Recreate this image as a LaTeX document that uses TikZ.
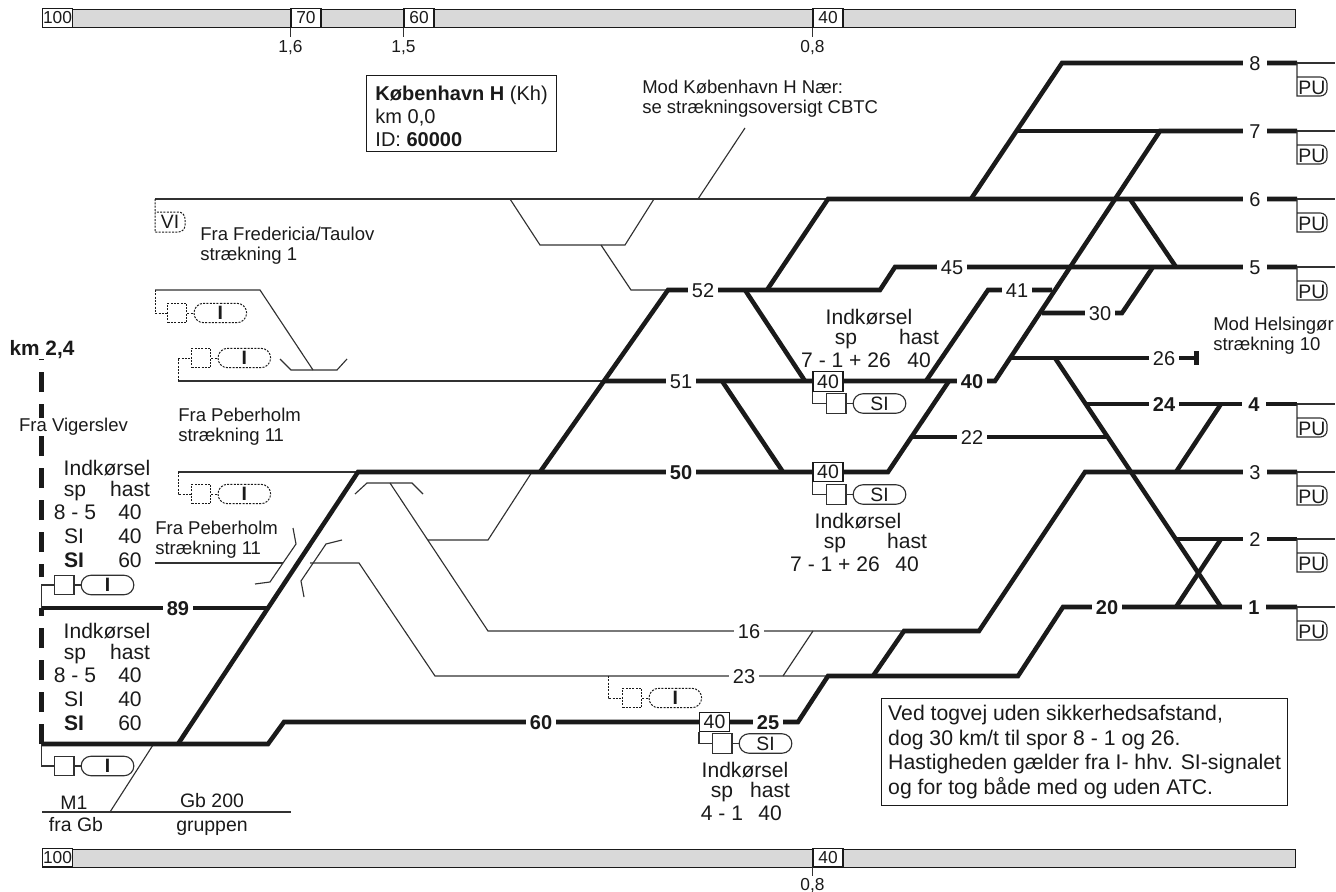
\documentclass[tikz,border=0pt]{standalone}
\usepackage{fontspec}
\setmainfont{Liberation Sans}
\usetikzlibrary{arrows.meta, positioning, calc, shapes.misc}
\definecolor{inkcol}{HTML}{1A1A1A}
\definecolor{barcol}{HTML}{D9D9D9}
\begin{document}
\begin{tikzpicture}[
    x=0.75pt, y=-0.75pt,
    % Line styles of the track plan
    track_line/.style={line width=3.4pt, color=inkcol},
    thin_line/.style={line width=0.85pt, draw=inkcol!90},
    dot_line/.style={line width=0.75pt, draw=inkcol, dash pattern=on 1.5pt off 1pt},
    km_line/.style={track_line, dash pattern=on 15pt off 9pt},
    % Text styles, named after the point size
    txt/.style={inner sep=0pt, text=inkcol, text depth=0pt},
    txt_13/.style={txt, font=\fontsize{13}{15}\selectfont, text height=9.4pt},
    txt_14/.style={txt, font=\fontsize{13.9}{15}\selectfont, align=left, anchor=west},
    txt_gb/.style={txt, font=\fontsize{14.6}{16}\selectfont, text height=10.5pt},
    tbl/.style={txt, font=\fontsize{15.8}{18}\selectfont, text height=11.3pt},
    trk_lbl/.style={txt, fill=white, font=\fontsize{15}{17}\selectfont, text height=10.7pt, minimum width=22.5pt},
    trk_bold/.style={trk_lbl, font=\fontsize{15}{17}\selectfont\bfseries},
    trk_one/.style={trk_lbl, minimum width=18pt},
    trk_onb/.style={trk_bold, minimum width=18pt},
    % Boxes and signals
    bar_box/.style={draw=inkcol, line width=0.85pt, fill=barcol, anchor=north west, minimum width=940pt, minimum height=13.5pt, inner sep=0pt},
    km_box/.style={draw=inkcol, line width=0.85pt, fill=white, inner sep=0pt, minimum width=22.5pt, minimum height=13.8pt, font=\fontsize{13}{15}\selectfont, text=inkcol},
    spd_box/.style={km_box, minimum height=14.4pt, font=\fontsize{14.6}{16}\selectfont},
    sig_box/.style={draw, fill=white, minimum size=14.6pt, inner sep=0pt, anchor=west},
    sig_pill/.style={rounded rectangle, draw, fill=white, minimum width=39.5pt, minimum height=14.6pt, inner sep=0pt, font=\fontsize{14.5}{16}\selectfont, text=inkcol},
    note_box/.style={draw=inkcol, line width=0.85pt, fill=white, anchor=north west, align=left, text=inkcol}
]
    \useasboundingbox (0,0) rectangle (1336,892);

    % --- Junctions of the track plan ---
    \foreach \n/\x/\y in {
        s0/42/744, s1/268/744, s2/284/722, s3/798/722, s4/828/676, s5/1018/676, s6/1063/607,
        m0/178/744, m1/358/472, m2/888/472, m3/949/381, n0/603/381, w0/995/381, b7/1160/131,
        p0/540/472, p1/668/290, p2/880/290, p3/895/267, q0/745/290, q1/805/381,
        r0/767/290, a6/828/199, v0/722/381, v1/783/472, b6/971/199, a8/1062/63, a7/1018/131,
        x0/926/381, x1/988/290, x2/1052/290, c6/1130/199, b5/1176/267, y0/1042/313, y1/1122/313, c5/1153/267,
        z0/1012/358, z1/1199/358, big0/1055/358, big1/1221/607, t4/1087/404, u0/1221/404, u1/1176/472,
        t22/912/437, t22e/1107/437, o0/873/676, o1/904/631, o2/979/631, o3/1085/472,
        t2/1176/539, k0/1221/539, k1/1176/607, t89/42/608, t89e/268/608,
        % thin lines
        vi0/155/199, cu0/510/199, cu1/540/245, cu2/625/245, cu3/654/199, cu4/601/245, cu5/631/290,
        hn0/745/128, hn1/698/199, fa0/155/290, fa1/260/290, fa2/313/370,
        xa0/280/359, xa1/291/370, xa2/337/370, xa3/347/359, fb0/178/381, fc0/178/472,
        fd0/155/563, fd1/283/563, ga0/293/528, ga1/296/544, ga2/270/582, ga3/255/584,
        gb0/342/540, gb1/326/544, gb2/301/581, gb3/304/597, he0/310/563, he1/359/563, he2/435/676,
        xb0/355/494, xb1/367/483, xb2/412/483, xb3/423/494, ta0/390/483, ta1/488/631,
        ja0/428/540, ja1/488/540, ja2/532/472, li0/783/676, li1/813/631, fe0/608/676,
        mg0/153/745, mg1/110/812, ml0/42/812, ml1/291/812, kma/41.5/744, kmb/41.5/608, kmc/41.5/577, kmd/41.5/359} {
        \coordinate (\n) at (\x,\y);
    }

    % Vertical km line on the left, cut off by the signal stub
    \draw[km_line] (kma) -- (kmb);
    \draw[km_line, dash phase=5.25pt] (kmc) -- (kmd);

    % --- Thin lines ---
    \draw[thin_line] (vi0) -- (a6);
    \draw[thin_line] (cu0) -- (cu1) -- (cu2) -- (cu3);
    \draw[thin_line] (cu4) -- (cu5) -- (p1);
    \draw[thin_line] (hn0) -- (hn1);
    \draw[thin_line] (fa0) -- (fa1) -- (fa2);
    \draw[thin_line] (xa0) -- (xa1) -- (xa2) -- (xa3);
    \draw[thin_line] (fb0) -- (n0);
    \draw[thin_line] (fc0) -- (m1);
    \draw[thin_line] (fd0) -- (fd1);
    \draw[thin_line] (ga0) -- (ga1) -- (ga2) -- (ga3);
    \draw[thin_line] (gb0) -- (gb1) -- (gb2) -- (gb3);
    \draw[thin_line] (he0) -- (he1) -- (he2) -- (s4);
    \draw[thin_line] (xb0) -- (xb1) -- (xb2) -- (xb3);
    \draw[thin_line] (ta0) -- (ta1) -- (o1);
    \draw[thin_line] (ja0) -- (ja1) -- (ja2);
    \draw[thin_line] (li0) -- (li1);
    \draw[thin_line] (mg0) -- (mg1);
    \draw[thin_line] (ml0) -- (ml1);

    % --- Thick tracks ---
    \draw[track_line] (s0) -- (s1) -- (s2) -- (s3) -- (s4) -- (s5) -- (s6) -- (1297,607);
    \draw[track_line] (m0) -- (m1) -- (m2) -- (m3);
    \draw[track_line] (n0) -- (w0) -- (b7) -- (1297,131);
    \draw[track_line] (p0) -- (p1) -- (p2) -- (p3) -- (1297,267);
    \draw[track_line] (q0) -- (q1);
    \draw[track_line] (r0) -- (a6) -- (1297,199);
    \draw[track_line] (v0) -- (v1);
    \draw[track_line] (b6) -- (a8) -- (1297,63);
    \draw[track_line] (a7) -- (b7);
    \draw[track_line] (x0) -- (x1) -- (x2);
    \draw[track_line] (c6) -- (b5);
    \draw[track_line] (y0) -- (y1) -- (c5);
    \draw[track_line, -{Bar[width=10.5pt,length=3.8pt]}] (z0) -- (z1);
    \draw[track_line] (big0) -- (big1);
    \draw[track_line] (t4) -- (1297,404);
    \draw[track_line] (u0) -- (u1);
    \draw[track_line] (t22) -- (t22e);
    \draw[track_line] (o0) -- (o1) -- (o2) -- (o3) -- (1297,472);
    \draw[track_line] (t2) -- (1297,539);
    \draw[track_line] (k0) -- (k1);
    \draw[track_line] (t89) -- (t89e);

    % --- Track numbers, each one cuts its gap in the line ---
    \foreach \n/\x/\y/\s in {
        89/178/608/trk_bold, 60/541/722/trk_bold, 25/768/722/trk_bold, 50/681/472/trk_bold,
        51/681/381/trk_lbl, 52/703/290/trk_lbl, 45/952/267/trk_lbl, 41/1017/290/trk_lbl,
        30/1100/313/trk_lbl, 40/972/381/trk_bold, 26/1164/358/trk_lbl, 24/1164/404/trk_bold,
        22/972/437/trk_lbl, 20/1107/607/trk_bold, 16/749/631/trk_lbl, 23/744/676/trk_lbl,
        8/1255/63/trk_one, 7/1255/131/trk_one, 6/1255/199/trk_one, 5/1255/267/trk_one,
        4/1254/404/trk_onb, 3/1255/472/trk_one, 2/1255/539/trk_one, 1/1254/607/trk_onb} {
        \node[\s] (l_\n) at (\x,\y) {\n};
    }

    % --- Track ends with PU boxes ---
    \foreach \n/\y in {8/63, 7/131, 6/199, 5/267, 4/404, 3/472, 2/539, 1/607} {
        \coordinate (e_\n) at (1297,\y);
        \draw[thin_line] (e_\n) -- ++(38,0);
        \draw[thin_line] (e_\n) -- ++(0,33) [rounded corners=5pt] -- ++(30,0) -- ++(0,-19) -- ++(-30,0);
        \node[txt, font=\fontsize{14.6}{16}\selectfont, text height=10.5pt] (pu_\n) at (1312,\y+24) {PU};
    }

    % --- Signals ---
    \foreach \n/\x/\y/\k/\sigtxt in {
        fa/167/313/dot_line/\textbf{I}, fb/191/358/dot_line/\textbf{I}, fc/191/494/dot_line/\textbf{I}, fd/622/698/dot_line/\textbf{I},
        sa/54/585/thin_line/\textbf{I}, sb/54/766/thin_line/\textbf{I},
        sc/826/403.5/thin_line/SI, sd/826/494.5/thin_line/SI, se/712/743.5/thin_line/SI} {
        \node[sig_box, \k] (\n_q) at (\x,\y) {};
        \node[sig_pill, \k, right=4.5pt of \n_q] (\n_p) {\sigtxt};
        \draw[\k] (\n_q) -- (\n_p);
    }
    \draw[dot_line] (fa0) |- (fa_q);
    \draw[dot_line] (fb0) |- (fb_q);
    \draw[dot_line] (fc0) |- (fc_q);
    \draw[dot_line] (fe0) |- (fd_q);
    \draw[thin_line] (kmb) |- (sa_q);
    \draw[thin_line] (kma) |- (sb_q);

    % Speed boxes on the tracks
    \node[spd_box] (spd_a) at (828,381.5) {40};
    \node[spd_box] (spd_b) at (828,472) {40};
    \node[spd_box] (spd_c) at (714.5,722) {40};
    \draw[thin_line] (spd_a.south west) |- (sc_q);
    \draw[thin_line] (spd_b.south west) |- (sd_q);
    \draw[thin_line] (spd_c.south west) |- (se_q);

    % VI box
    \draw[dot_line] (vi0) -- (155,232) [rounded corners=5pt] -- (185,232) -- (185,212) -- (155,212);
    \node[txt, font=\fontsize{14.5}{16}\selectfont, text height=10.5pt] (vi_lbl) at (170,221.5) {VI};

    % --- Km bars ---
    \node[bar_box] (bar_top) at (42,9) {};
    \node[bar_box] (bar_bot) at (42,848.5) {};
    \foreach \n/\x/\y/\lab in {a/57.5/18/100, b/306/18/70, c/419/18/60, d/828/18/40, e/57.5/857.5/100, f/828/857.5/40} {
        \node[km_box] (km_\n) at (\x,\y) {\lab};
    }
    \foreach \n/\lab/\dist in {b/{1,6}/9pt, c/{1,5}/9pt, d/{0,8}/9pt, f/{0,8}/7.5pt} {
        \node[txt_13, below=\dist of km_\n.south west] (tk_\n) {\lab};
        \draw[thin_line] (km_\n.south west) -- ++(0,9);
    }

    % --- Entry speed tables ---
    \foreach \i/\y in {a/0, b/163} {
        \node[tbl] (ind_\i) at (107,468+\y) {Indkørsel};
        \node[tbl] (sp_\i) at (75,489+\y) {sp};
        \node[tbl] (ha_\i) at (130,489+\y) {hast};
        \node[tbl] (ro_\i) at (75,512+\y) {8 - 5};
        \node[tbl] (va_\i) at (130,512+\y) {40};
        \node[tbl] (rp_\i) at (74,536+\y) {SI};
        \node[tbl] (vb_\i) at (130,536+\y) {40};
        \node[tbl] (rq_\i) at (74,560+\y) {\textbf{SI}};
        \node[tbl] (vc_\i) at (130,560+\y) {60};
    }
    \foreach \i/\xa/\xb/\xc/\y/\rng in {c/869/846/919/317/7 - 1 + 26, d/858/835/907/521/7 - 1 + 26, e/745/722/770/770/4 - 1} {
        \node[tbl] (ind_\i) at (\xa,\y) {Indkørsel};
        \node[tbl] (sp_\i) at (\xb,\y+20) {sp};
        \node[tbl] (ha_\i) at (\xc,\y+20) {hast};
        \node[tbl] (ro_\i) at (\xb,\y+43) {\rng};
        \node[tbl] (va_\i) at (\xc,\y+43) {40};
    }

    % --- Remaining texts ---
    \node[note_box, font=\fontsize{15}{17.2}\selectfont, minimum width=142.5pt, minimum height=57pt, inner xsep=6pt, inner ysep=2pt] (kh_box) at (366,75) {\rule{0pt}{14.7pt}\textbf{København H} (Kh)\\km 0,0\\ID: \textbf{60000}};
    \node[note_box, font=\fontsize{15.9}{18.4}\selectfont, minimum width=302pt, minimum height=80pt, inner xsep=5pt, inner ysep=2pt] (note) at (881,698) {Ved togvej uden sikkerhedsafstand,\\dog 30 km/t til spor 8 - 1 og 26.\\Hastigheden gælder fra I- hhv. SI-signalet\\og for tog både med og uden ATC.};
    \node[txt_14] (t_cbtc) at (642,96.5) {Mod København H Nær:\\se strækningsoversigt CBTC};
    \node[txt_14] (t_fred) at (200,244) {Fra Fredericia/Taulov\\strækning 1};
    \node[txt_14] (t_peb) at (178,425) {Fra Peberholm\\strækning 11};
    \node[txt_14] (t_pec) at (155,538) {Fra Peberholm\\strækning 11};
    \node[txt_14] (t_hel) at (1213,334) {Mod Helsingør\\strækning 10};
    \node[txt_14, fill=white, anchor=center] (t_vig) at (73.5,425) {Fra Vigerslev};
    \node[txt, fill=white, font=\fontsize{15.6}{18}\selectfont\bfseries, text height=11.2pt] (t_km) at (42,348) {km 2,4};
    \node[txt_gb] (t_m1) at (74,802) {M1};
    \node[txt_gb] (t_fr) at (76,824) {fra Gb};
    \node[txt_gb] (t_gb) at (212,800) {Gb 200};
    \node[txt_gb] (t_gr) at (212,824) {gruppen};
\end{tikzpicture}
\end{document}
